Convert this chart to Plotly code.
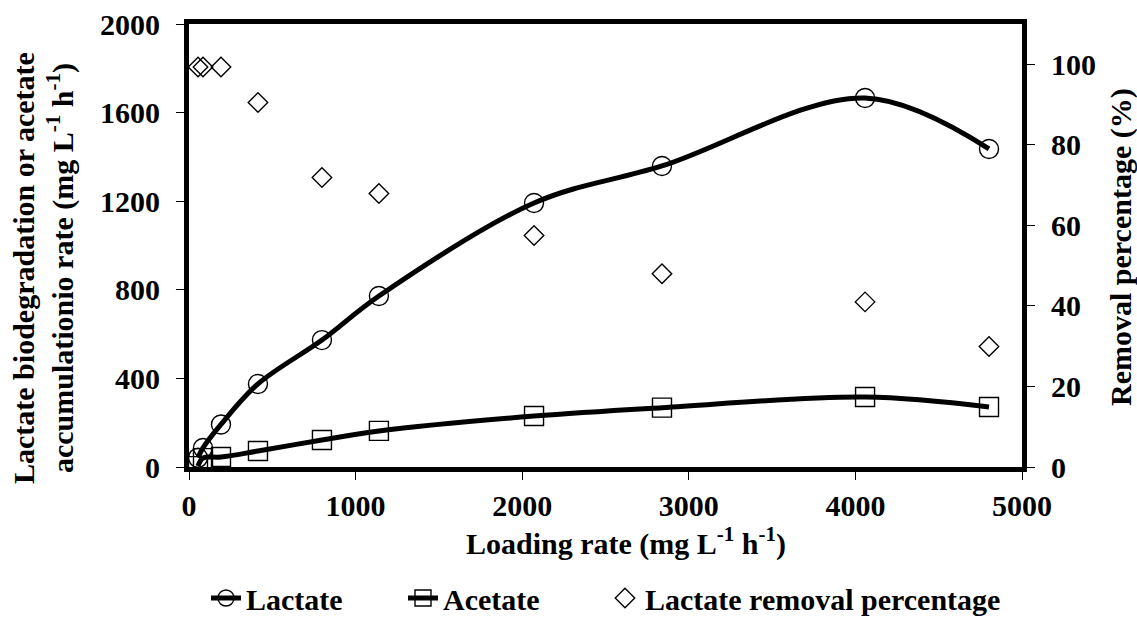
import plotly.graph_objects as go

# Loading rate (mg L-1 h-1)
loading = [54, 84, 192, 414, 798, 1140, 2071, 2839, 4058, 4802]
# Lactate biodegradation rate (mg L-1 h-1)
lactate = [42, 86, 192, 375, 573, 772, 1192, 1359, 1666, 1436]
# Acetate accumulation rate (mg L-1 h-1)
acetate = [4, 40, 45, 72, 122, 163, 230, 268, 316, 271]
# Lactate removal percentage (%)
removal = [99.3, 99.3, 99.3, 90.5, 71.9, 67.9, 57.5, 48.0, 41.0, 29.9]

x_ticks = [0, 1000, 2000, 3000, 4000, 5000]
y_ticks = [0, 400, 800, 1200, 1600, 2000]
y2_ticks = [0, 20, 40, 60, 80, 100]

FONT = "Liberation Serif"
fs = 30

fig = go.Figure()
fig.add_trace(go.Scatter(
    x=loading, y=lactate, name="<b>Lactate</b>", mode="lines+markers",
    line=dict(color="black", width=5, shape="spline", smoothing=1.0),
    marker=dict(symbol="circle-open", size=19, color="black", line=dict(width=1.4)),
    legend="legend",
))
fig.add_trace(go.Scatter(
    x=loading, y=acetate, name="<b>Acetate</b>", mode="lines+markers",
    line=dict(color="black", width=5, shape="spline", smoothing=1.0),
    marker=dict(symbol="square-open", size=19, color="black", line=dict(width=1.4)),
    legend="legend2",
))
fig.add_trace(go.Scatter(
    x=loading, y=removal, name="<b>Lactate removal percentage</b>", mode="markers",
    yaxis="y2",
    marker=dict(symbol="diamond-open", size=15, color="black", line=dict(width=1.4)),
    legend="legend3",
))

L, R, T, B = 189, 115, 24, 158
W = 1137 - L - R
H = 625 - T - B

axis_common = dict(
    showgrid=False, zeroline=False, showline=True, linecolor="black", linewidth=5,
    ticks="outside", ticklen=8, tickwidth=1, tickcolor="black", automargin=False,
    tickfont=dict(family=FONT, size=fs, color="black"),
)

def bold(vals):
    return ["<b>%d</b>" % v for v in vals]

def legend_at(px):
    return dict(orientation="h", xref="container", yref="container",
                x=px / 1137, xanchor="left", y=(625 - 598) / 625, yanchor="middle",
                font=dict(family=FONT, size=fs, color="black"),
                bgcolor="rgba(0,0,0,0)")

fig.update_layout(
    width=1137, height=625,
    margin=dict(l=L, r=R, t=T, b=B),
    paper_bgcolor="white", plot_bgcolor="white",
    font=dict(family=FONT, size=fs, color="black"),
    xaxis=dict(range=[0, 5000], tickvals=x_ticks, ticktext=bold(x_ticks),
               mirror=True, **axis_common),
    yaxis=dict(range=[0, 2000], tickvals=y_ticks, ticktext=bold(y_ticks),
               ticklabelstandoff=10, **axis_common),
    yaxis2=dict(range=[0, 110], overlaying="y", side="right",
                tickvals=y2_ticks, ticktext=bold(y2_ticks),
                ticklabelstandoff=10, **axis_common),
    showlegend=True,
    legend=legend_at(206),
    legend2=legend_at(403),
    legend3=legend_at(605),
)

def px_x(p):
    return (p - L) / W

def px_y(p):
    return (T + H - p) / H

annotations = [
    dict(text="<b>Loading rate (mg L<sup>-1</sup> h<sup>-1</sup>)</b>",
         x=px_x(626), y=px_y(541), xref="paper", yref="paper",
         xanchor="center", yanchor="middle", showarrow=False),
    dict(text="<b>Lactate biodegradation or acetate<br>accumulationio rate (mg L<sup>-1</sup> h<sup>-1</sup>)</b>",
         x=px_x(43), y=px_y(268), xref="paper", yref="paper", textangle=-90,
         xanchor="center", yanchor="middle", showarrow=False),
    dict(text="<b>Removal percentage (%)</b>",
         x=px_x(1121), y=px_y(247), xref="paper", yref="paper", textangle=-90,
         xanchor="center", yanchor="middle", showarrow=False),
]
for a in annotations:
    a["font"] = dict(family=FONT, size=fs, color="black")
fig.update_layout(annotations=annotations)

fig.write_html("out.html")
